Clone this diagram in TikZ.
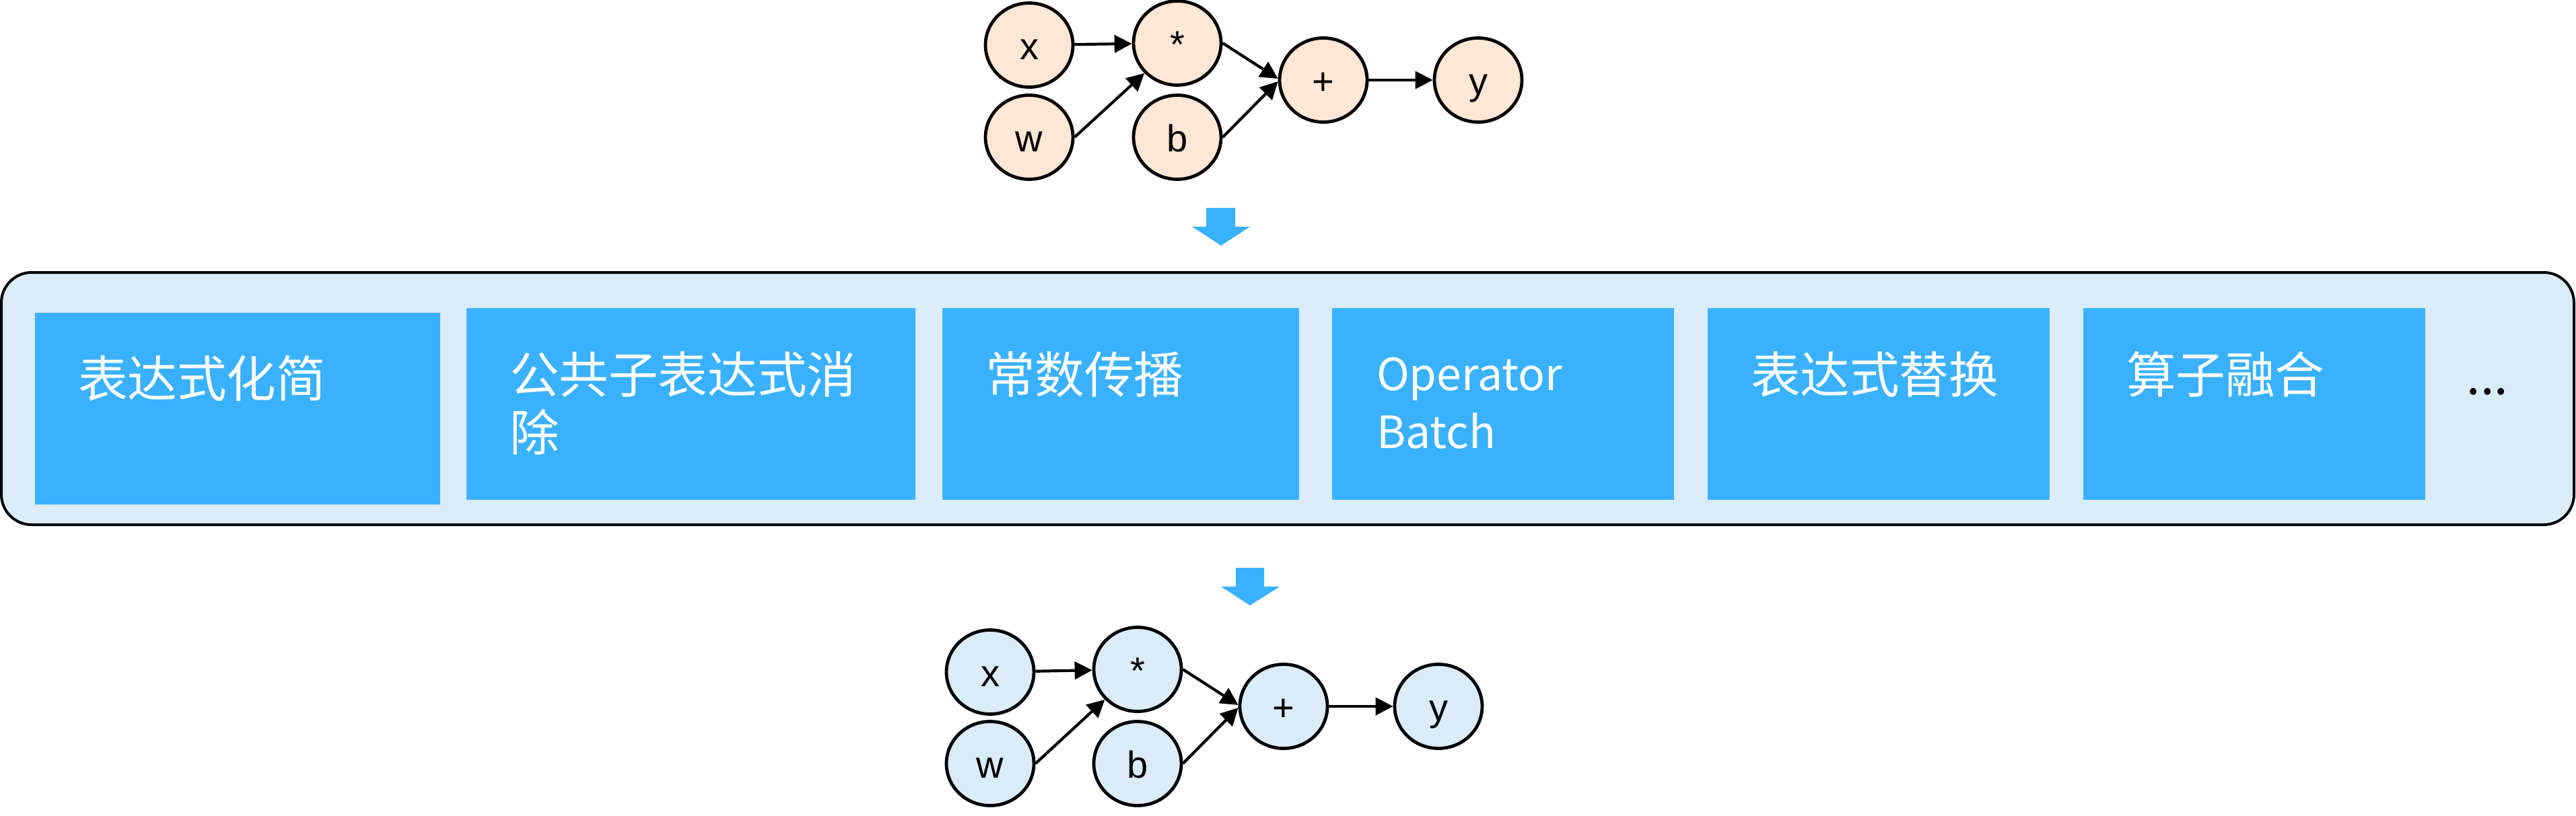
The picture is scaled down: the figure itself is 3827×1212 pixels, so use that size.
\documentclass[tikz,border=0pt]{standalone}
\usepackage{fontspec}
\newfontfamily\cjkfont{Noto Sans CJK SC}
\newfontfamily\latfont{Liberation Sans}
\usetikzlibrary{shapes.geometric,arrows.meta,calc}
\definecolor{boxblue}{RGB}{58,177,254}
\definecolor{panelblue}{RGB}{218,235,250}
\definecolor{peach}{RGB}{255,230,213}
\begin{document}
\begin{tikzpicture}[x=0.25pt,y=-0.25pt,
  gnode/.style={ellipse, draw, line width=1.2pt, minimum width=32.5pt, minimum height=31.25pt,
    inner sep=0pt, font=\latfont\fontsize{14pt}{16pt}\selectfont, text height=10.5pt, text depth=0pt},
  topnode/.style={gnode, fill=peach},
  botnode/.style={gnode, fill=panelblue},
  link/.style={line width=1.05pt, -{Triangle[length=6.5pt,width=6.5pt]}},
  passbox/.style={fill=boxblue, inner sep=0pt, minimum height=71.25pt},
  passtext/.style={anchor=base west, inner sep=0pt, text=white,
    font=\cjkfont\fontsize{18.4pt}{21.5pt}\selectfont, align=left},
  blockarrow/.style={fill=boxblue}
]
\useasboundingbox (0,0) rectangle (3827,1212);

% top graph
\node[topnode] (x1) at (1529,67) {x};
\node[topnode] (w1) at (1529,204) {w};
\node[topnode] (m1) at (1749,64) {*};
\node[topnode] (bb1) at (1749,204) {b};
\node[topnode] (p1) at (1966,119) {+};
\node[topnode] (y1) at (2196,119) {y};
\draw[link] (x1) -- (m1);
\draw[link] (w1.east) -- (m1);
\draw[link] (m1.east) -- ([yshift=0.5pt]p1.west);
\draw[link] (bb1.east) -- ([yshift=-0.5pt]p1.west);
\draw[link] (p1) -- (y1);

% arrow down 1
\fill[blockarrow] (1792,309) -- (1835,309) -- (1835,337) -- (1857,337) -- (1814,365) -- (1771,337) -- (1792,337) -- cycle;

% panel
\node[draw, line width=1pt, fill=panelblue, rounded corners=11.25pt, minimum width=955.5pt,
  minimum height=93.75pt, inner sep=0pt] (panel) at (1913,592.5) {};

\node[passbox, minimum width=150.5pt] (s1) at (353,607.5) {};
\node[passbox, minimum width=166.75pt] (s2) at (1026.5,600.5) {};
\node[passbox, minimum width=132.5pt] (s3) at (1665,600.5) {};
\node[passbox, minimum width=127pt] (s4) at (2233,600.5) {};
\node[passbox, minimum width=127pt] (s5) at (2791,600.5) {};
\node[passbox, minimum width=127pt] (s6) at (3349,600.5) {};

\node[passtext] (t1) at ($(s1.north west)+(64,126)$) {表达式化简};
\node[passtext] (t2) at ($(s2.north west)+(64,213)$) {公共子表达式消\\除};
\node[passtext] (t3) at ($(s3.north west)+(64,127)$) {常数传播};
\node[passtext, font=\cjkfont\fontsize{16.5pt}{21.5pt}\selectfont] (t4) at ($(s4.north west)+(66,209)$) {Operator\\Batch};
\node[passtext] (t5) at ($(s5.north west)+(64,127)$) {表达式替换};
\node[passtext] (t6) at ($(s6.north west)+(64,127)$) {算子融合};
\node[anchor=base west, inner sep=0pt, font=\cjkfont\fontsize{18.4pt}{21.5pt}\selectfont] (dots) at (3664,586) {...};

% arrow down 2
\fill[blockarrow] (1836,844) -- (1878,844) -- (1878,872) -- (1901,872) -- (1857,900) -- (1814,872) -- (1836,872) -- cycle;

% bottom graph
\node[botnode] (x2) at (1471,999) {x};
\node[botnode] (w2) at (1471,1135) {w};
\node[botnode] (m2) at (1690,995) {*};
\node[botnode] (bb2) at (1690,1135) {b};
\node[botnode] (p2) at (1907,1050) {+};
\node[botnode] (y2) at (2137,1050) {y};
\draw[link] (x2) -- (m2);
\draw[link] (w2.east) -- (m2);
\draw[link] (m2.east) -- ([yshift=0.5pt]p2.west);
\draw[link] (bb2.east) -- ([yshift=-0.5pt]p2.west);
\draw[link] (p2) -- (y2);
\end{tikzpicture}
\end{document}
